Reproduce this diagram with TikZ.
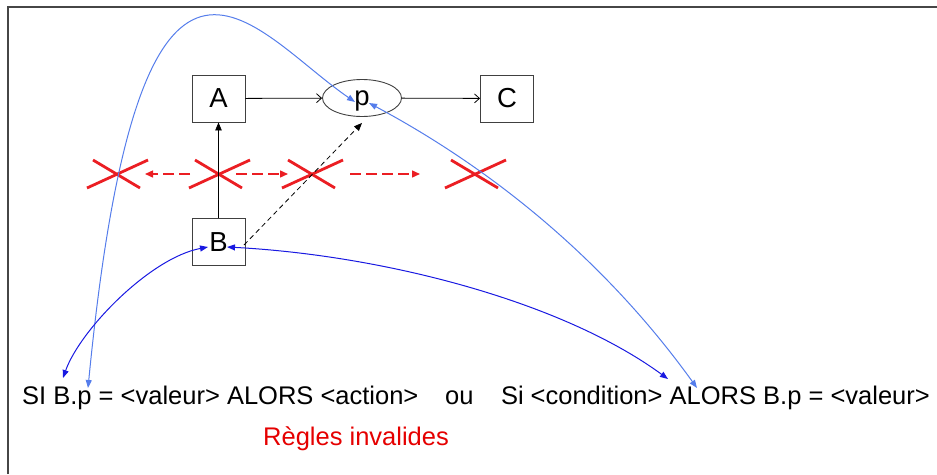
\documentclass[tikz,border=0pt]{standalone}
\usepackage{fontspec}
\setmainfont{Liberation Sans}
\usetikzlibrary{arrows.meta,shapes.geometric}
\definecolor{lblue}{RGB}{85,125,235}
\definecolor{dblue}{RGB}{25,25,225}
\definecolor{xred}{RGB}{235,30,35}
\definecolor{framecol}{RGB}{70,70,70}
\begin{document}
\begin{tikzpicture}[x=1pt,y=-1pt,
  every node/.style={font=\fontsize{25.5}{30}\selectfont},
  box/.style={draw=black!75, line width=0.9pt, minimum width=53pt, minimum height=47pt, inner sep=0pt, font=\fontsize{27.5}{32}\selectfont},
  oval/.style={ellipse, draw=black!75, line width=0.9pt, minimum width=79pt, minimum height=37pt, inner sep=0pt, text depth=0pt, font=\fontsize{27.5}{32}\selectfont},
  blk/.style={black, line width=0.8pt},
  barb/.style={-{Straight Barb[length=5pt,width=9pt]}},
  tri/.style={-{Triangle[length=8pt,width=6.5pt]}},
  lb/.style={lblue, line width=1pt, {Triangle[length=8pt,width=6pt]}-{Triangle[length=8pt,width=6pt]}},
  db/.style={dblue, line width=1pt, {Triangle[length=8pt,width=6pt]}-{Triangle[length=8pt,width=6pt]}},
  cross/.style={xred, line width=2.8pt},
  rdash/.style={xred, line width=1.4pt, dash pattern=on 11pt off 5pt, -{Triangle[length=8pt,width=7pt]}},
]
\useasboundingbox (0,0) rectangle (937,474);
\draw[framecol, line width=1.3pt] (8,474) -- (8,7) -- (937,7);

% nodes
\node[box] (A) at (218.5,98.5) {A};
\node[oval] (p) at (362,98) {p};
\node[box] (C) at (507,98.5) {C};
\node[box] (B) at (218.5,242) {B};

% text
\node[anchor=base west, inner sep=0pt] (t1) at (22,404) {SI B.p = <valeur> ALORS <action>};
\node[anchor=base west, inner sep=0pt] (t2) at (445,404) {ou};
\node[anchor=base east, inner sep=0pt] (t3) at (930,404) {Si <condition> ALORS B.p = <valeur>};
\node[anchor=base west, inner sep=0pt, text=red!90!black] (t4) at (263,445) {Règles invalides};

% arrow end points
\coordinate (tB) at (63,378);
\coordinate (tp) at (88,388);
\coordinate (tA) at (668,379);
\coordinate (tL) at (697,388);
\coordinate (pa) at (355,102);
\coordinate (pb) at (369,103);
\coordinate (bl) at (208,247);
\coordinate (br) at (227,247);
\coordinate (bd) at (244,245);

% red crosses
\coordinate (x1) at (115,174);
\coordinate (x2) at (217,174);
\coordinate (x3) at (310,174);
\coordinate (x4) at (473,174);
\foreach \c in {x1,x2,x3,x4}{
  \draw[cross] ([shift={(-28,14)}]\c) -- ([shift={(33,-14)}]\c);
  \draw[cross] ([shift={(-22,-14)}]\c) -- ([shift={(25,14)}]\c);
}
\draw[rdash] ([xshift=-27pt]x2) -- ([xshift=30pt]x1);
\draw[rdash] ([xshift=19pt]x2) -- ([xshift=-22pt]x3);
\draw[rdash] ([xshift=40pt]x3) -- ([xshift=-53pt]x4);

% black connectors
\draw[blk,barb] (A) -- (p);
\draw[blk,barb] (p) -- (C);
\draw[blk,tri] (B) -- (A);
\draw[blk,tri,dash pattern=on 5pt off 3.5pt] (bd) -- ([yshift=-6pt]p.south);

% blue connectors
\draw[lb] (tp) .. controls (140,-145) and (250,30) .. (pa);
\draw[lb] (pb) .. controls (500,173) and (610,267) .. (tL);
\draw[db] (bl) .. controls (150,258) and (80,330) .. (tB);
\draw[db] (br) .. controls (380,255) and (560,300) .. (tA);
\end{tikzpicture}
\end{document}
